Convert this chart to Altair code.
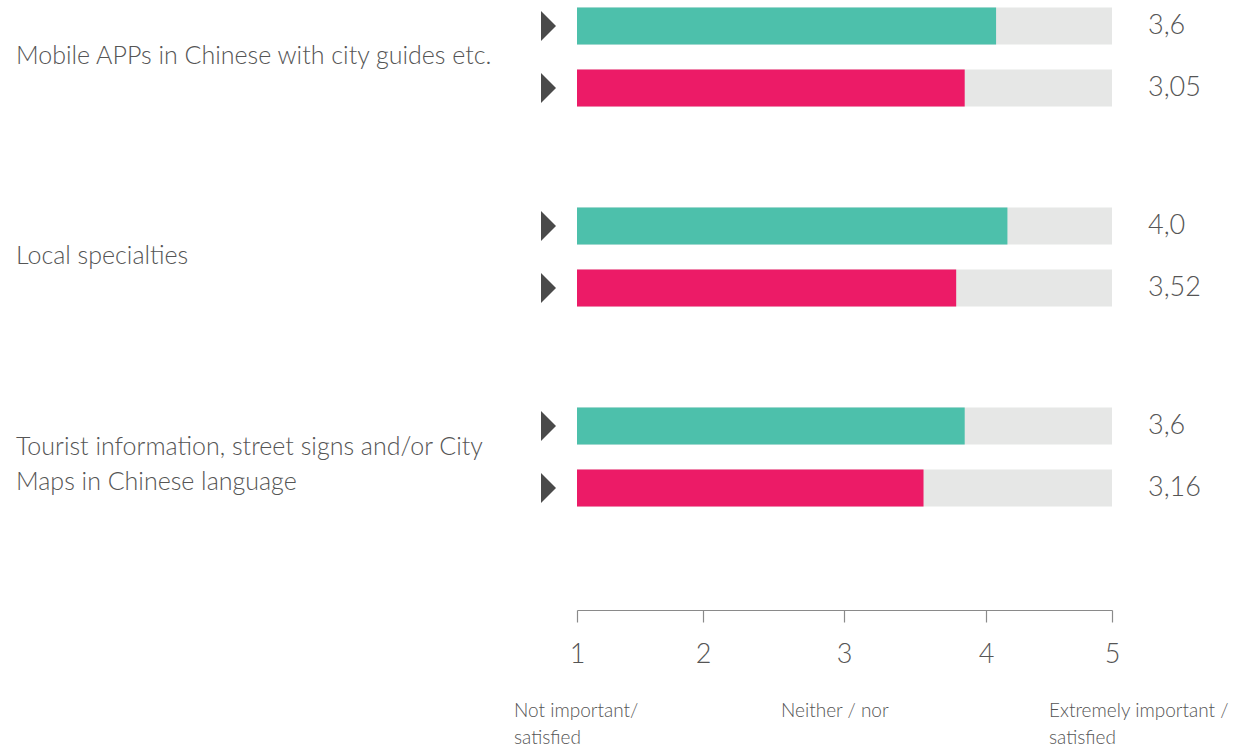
import altair as alt
import pandas as pd

# ---- data ----
groups = [
    "Mobile APPs in Chinese with city guides etc.",
    "Local specialties",
    "Tourist information, street signs and/or City\nMaps in Chinese language",
]
series = ["Importance", "Satisfaction"]
# bar lengths as drawn (on the 1-5 scale)
importance_vals = [4.08, 4.17, 3.85]
satisfaction_vals = [3.85, 3.79, 3.56]
# printed value labels
importance_labels = ["3,6", "4,0", "3,6"]
satisfaction_labels = ["3,05", "3,52", "3,16"]

scale_ticks = [1, 2, 3, 4, 5]
scale_notes = ["Not important/\nsatisfied", "Neither / nor", "Extremely important /\nsatisfied"]
scale_note_pos = [1, 3, 5]

rows = []
for g, iv, sv, il, sl in zip(groups, importance_vals, satisfaction_vals,
                             importance_labels, satisfaction_labels):
    rows.append({"group": g, "series": series[0], "value": iv, "label": il, "lo": 1, "hi": 5})
    rows.append({"group": g, "series": series[1], "value": sv, "label": sl, "lo": 1, "hi": 5})
df = pd.DataFrame(rows)
df_groups = pd.DataFrame({"group": groups, "lines": [g.count("\n") + 1 for g in groups]})
df_notes = pd.DataFrame({"pos": scale_note_pos, "note": scale_notes})

FONT = "Lato"
TEXT = "#555555"

x_scale = alt.Scale(domain=scale_ticks, range=[577, 703, 844, 986, 1112])
y_scale = alt.Scale(domain=groups, range=[-43, 557], paddingInner=0, paddingOuter=0)
yoff_scale = alt.Scale(domain=series, paddingInner=0.403, paddingOuter=0.8145)

x_axis = alt.Axis(
    values=scale_ticks, format="d", grid=False, domainColor="#8a8a8a", tickColor="#8a8a8a",
    domainWidth=1.2, tickWidth=1.2, tickSize=12, labelFontSize=27, labelFont=FONT,
    labelColor=TEXT, labelPadding=19, title=None, labelFontWeight=300, labelFlush=False,
)

base = alt.Chart(df).encode(
    y=alt.Y("group:N", scale=y_scale, axis=None, sort=groups),
    yOffset=alt.YOffset("series:N", scale=yoff_scale, sort=series),
)

track = base.mark_bar(color="#e6e7e6", cornerRadius=0).encode(
    x=alt.X("lo:Q", scale=x_scale, axis=x_axis),
    x2="hi:Q",
)

bars = base.mark_bar(cornerRadius=0).encode(
    x=alt.X("lo:Q", scale=x_scale),
    x2="value:Q",
    color=alt.Color("series:N", scale=alt.Scale(domain=series, range=["#4dc0ab", "#ec1b67"]), legend=None),
)

arrows = base.mark_point(
    shape="M-0.5,-1L0.5,0L-0.5,1Z", size=900, filled=True, color="#4a4a4a", opacity=1, strokeWidth=0
).encode(x=alt.value(548.5))

values = base.mark_text(
    align="left", baseline="middle", fontSize=27, font=FONT, color=TEXT, dx=36, fontWeight=300
).encode(x=alt.datum(5, scale=x_scale), text="label:N")

label_kw = dict(align="left", baseline="middle", fontSize=25, font=FONT, color=TEXT,
                lineBreak="\n", lineHeight=35, fontWeight=300)
label_enc = dict(
    x=alt.value(16),
    y=alt.Y("group:N", scale=y_scale, axis=None, sort=groups),
    text="group:N",
)
labels_single = alt.Chart(df_groups).transform_filter("datum.lines == 1").mark_text(
    dy=-1, **label_kw).encode(**label_enc)
labels_multi = alt.Chart(df_groups).transform_filter("datum.lines > 1").mark_text(
    dy=-10, **label_kw).encode(**label_enc)

notes = alt.Chart(df_notes).mark_text(
    align="left", baseline="top", fontSize=19, font=FONT, color=TEXT, lineBreak="\n",
    lineHeight=27, dx=-63, fontWeight=300,
).encode(
    x=alt.X("pos:Q", scale=x_scale),
    y=alt.value(702),
    text="note:N",
)

chart = alt.layer(track, bars, arrows, values, labels_single, labels_multi, notes).properties(
    width=1241, height=610,
    padding={"left": 0, "top": 0, "right": 0, "bottom": 139},
    autosize=alt.AutoSizeParams(type="none"),
    background="white",
).configure_view(stroke=None)

chart.save("out.html", embed_options={"renderer": "svg", "actions": False})
